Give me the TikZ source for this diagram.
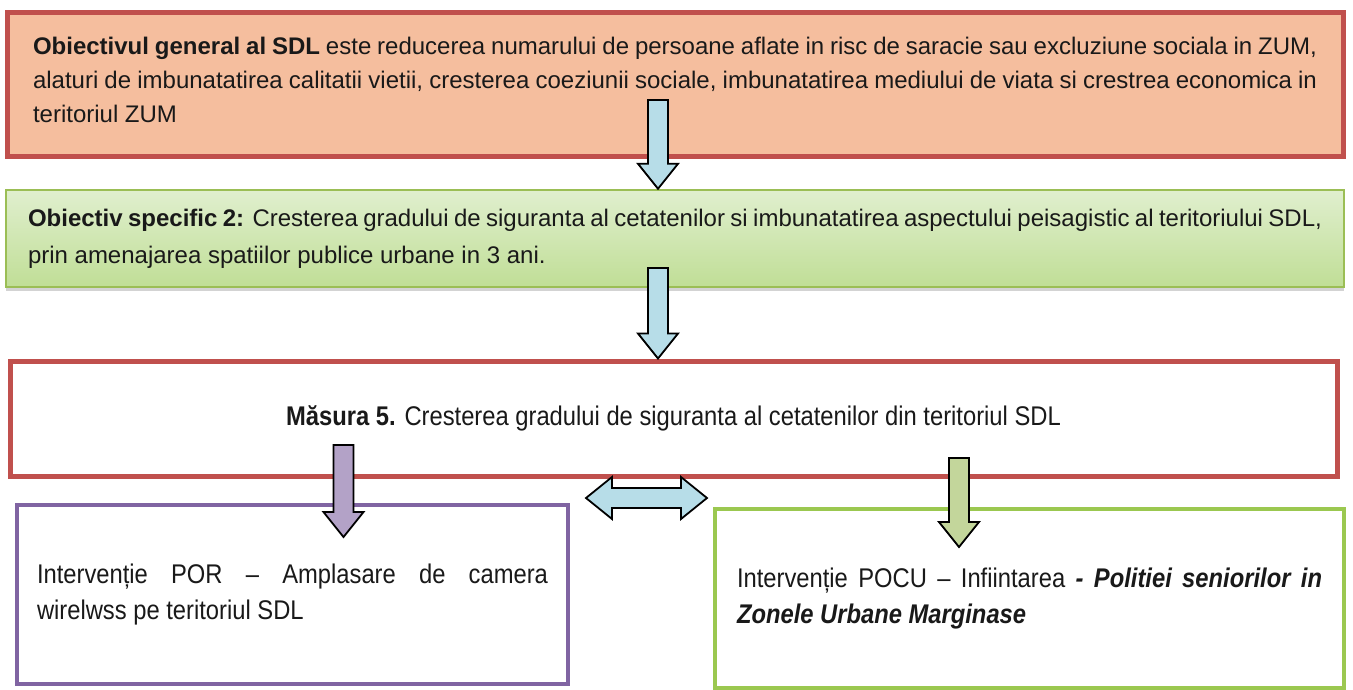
\documentclass[tikz,border=0pt]{standalone}
\usepackage{fontspec}
\setmainfont{Liberation Sans}
\newfontfamily\narrowsans[FakeStretch=0.88]{Liberation Sans}
\usetikzlibrary{calc,shadows}

\definecolor{objred}{RGB}{192,80,77}
\definecolor{objfill}{RGB}{245,190,158}
\definecolor{specline}{RGB}{155,190,85}
\definecolor{spectop}{RGB}{224,239,206}
\definecolor{specbot}{RGB}{192,222,150}
\definecolor{porline}{RGB}{128,100,162}
\definecolor{poculine}{RGB}{155,200,80}
\definecolor{arrblue}{RGB}{183,221,232}
\definecolor{arrpurple}{RGB}{179,162,199}
\definecolor{arrgreen}{RGB}{195,214,155}

\tikzset{
  box/.style={draw, rectangle, inner ysep=0pt, text=black!90,
              font=\fontsize{24}{34}\selectfont},
  narrowbox/.style={box, font=\narrowsans\fontsize{27}{36}\selectfont},
  blockarrow/.style={draw=black, line width=1.8pt, line join=miter},
}

% block arrow pointing down: tail, tip, fill
\newcommand{\blockdown}[3]{%
  \draw[blockarrow, fill=#3] let \p1=(#1), \p2=(#2) in
    (\x1-10pt,\y1) -- (\x1+10pt,\y1) -- (\x1+10pt,\y2+25pt) -- (\x1+20pt,\y2+25pt)
    -- (\x1,\y2) -- (\x1-20pt,\y2+25pt) -- (\x1-10pt,\y2+25pt) -- cycle;}

\begin{document}
\begin{tikzpicture}[x=1pt, y=-1pt]
\useasboundingbox (0,0) rectangle (1353,689);

% boxes
\node[box, draw=objred, line width=5pt, fill=objfill,
      minimum width=1336pt, minimum height=144pt,
      inner xsep=26pt, text width=1284pt, align=justify] (gen) at (675,84)
  {\textbf{Obiectivul general al SDL} este reducerea numarului de persoane aflate in risc de saracie sau excluziune sociala in ZUM,\linebreak
   alaturi de imbunatatirea calitatii vietii, cresterea coeziunii sociale, imbunatatirea mediului de viata si crestrea economica in\linebreak
   teritoriul ZUM\vspace{8pt}};
\node[box, draw=specline, line width=2.5pt, top color=spectop, bottom color=specbot,
      drop shadow={shadow xshift=0pt, shadow yshift=-4pt, opacity=.35, fill=gray},
      minimum width=1338pt, minimum height=97pt,
      inner xsep=22pt, text width=1294pt, align=justify,
      font=\fontsize{24}{37}\selectfont] (spec) at (675,238.5)
  {\textbf{Obiectiv specific 2:} Cresterea gradului de siguranta al cetatenilor si imbunatatirea aspectului peisagistic al teritoriului SDL,\linebreak
   prin amenajarea spatiilor publice urbane in 3 ani.};
\node[narrowbox, draw=objred, line width=5pt, fill=white,
      minimum width=1327pt, minimum height=115pt, align=center] (mas) at (673.5,418.5)
  {\textbf{Măsura 5.} Cresterea gradului de siguranta al cetatenilor din teritoriul SDL};
\node[narrowbox, draw=porline, line width=4pt, fill=white,
      minimum width=551pt, minimum height=179pt,
      inner xsep=20pt, text width=511pt, align=justify] (por) at (292.5,594.5)
  {Intervenție POR – Amplasare de camera\linebreak wirelwss pe teritoriul SDL};
\node[narrowbox, draw=poculine, line width=4pt, fill=white,
      minimum width=629pt, minimum height=179pt,
      inner xsep=22pt, text width=585pt, align=justify] (pocu) at (1029.5,598.5)
  {Intervenție POCU – Infiintarea \textbf{\textit{- Politiei seniorilor in}}\linebreak
   \textbf{\textit{Zonele Urbane Marginase}}};

% arrows
\coordinate (a1) at (658,100);
\coordinate (a2) at (658,268);
\coordinate (a3) at (343.5,445);
\coordinate (a3tip) at (343.5,537);
\coordinate (a4) at (959,458);
\coordinate (a4tip) at (959,547);
\blockdown{a1}{spec.north -| a1}{arrblue}
\blockdown{a2}{mas.north -| a2}{arrblue}
\blockdown{a3}{a3tip}{arrpurple}
\blockdown{a4}{a4tip}{arrgreen}

\coordinate (dl) at (586,498);
\coordinate (dr) at (707,498);
\draw[blockarrow, fill=arrblue] let \p1=(dl), \p2=(dr) in
  (\p1) -- (\x1+26pt,\y1+21pt) -- (\x1+26pt,\y1+10pt) -- (\x2-26pt,\y2+10pt)
  -- (\x2-26pt,\y2+21pt) -- (\p2) -- (\x2-26pt,\y2-21pt) -- (\x2-26pt,\y2-10pt)
  -- (\x1+26pt,\y1-10pt) -- (\x1+26pt,\y1-21pt) -- cycle;
\end{tikzpicture}
\end{document}
